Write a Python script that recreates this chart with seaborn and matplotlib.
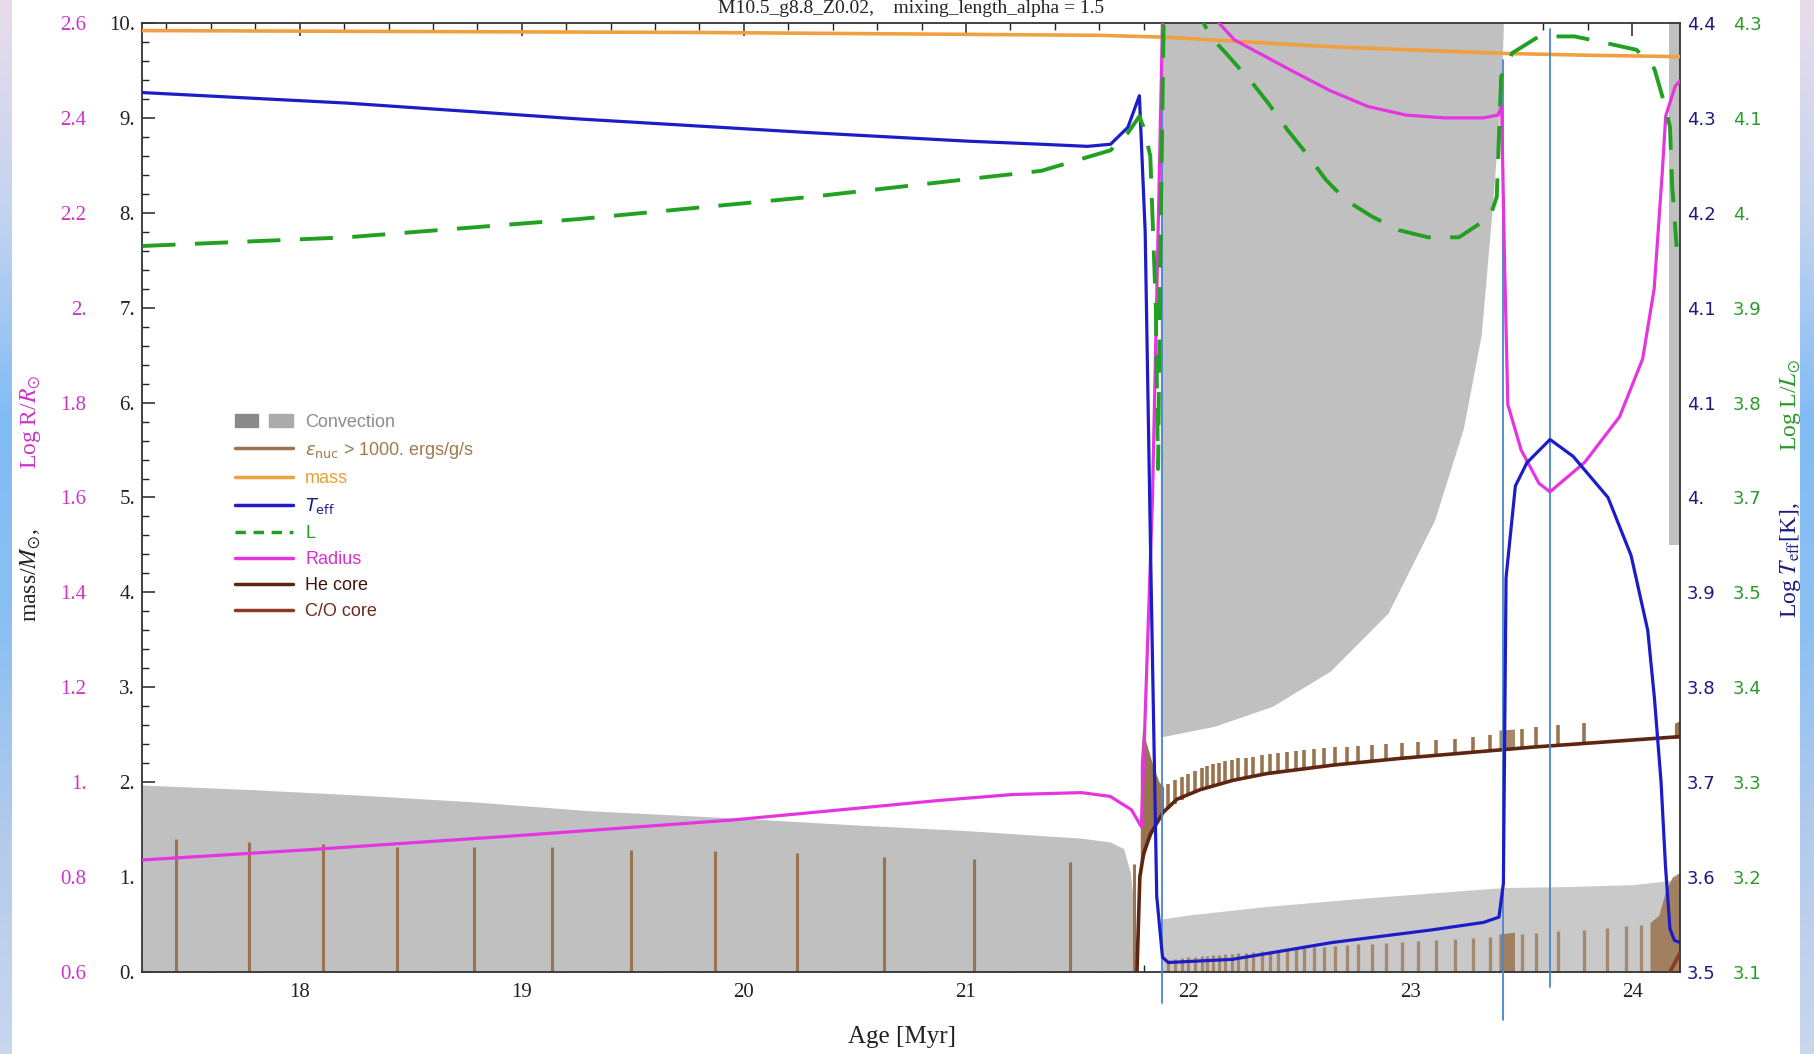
import matplotlib
matplotlib.use("Agg")
import matplotlib.pyplot as plt
import numpy as np
import seaborn as sns
from matplotlib.lines import Line2D
from matplotlib.patches import Patch
from matplotlib.legend_handler import HandlerTuple
from matplotlib.colors import LinearSegmentedColormap
from matplotlib.ticker import MultipleLocator

# ---------------- data (age in Myr) ----------------
# stellar mass [Msun]
mass_age = [17.29, 18.5, 19.8, 21.0, 21.6, 21.9, 22.12, 22.64, 23.41, 23.8, 24.215]
mass_val = [9.92, 9.91, 9.90, 9.88, 9.87, 9.85, 9.82, 9.75, 9.68, 9.66, 9.645]

# log Teff
teff_age = [17.292, 18.214, 19.255, 20.297, 21.0, 21.339, 21.547, 21.651, 21.729, 21.781,
            21.807, 21.833, 21.859, 21.885, 21.911, 22.20, 22.65, 23.10, 23.33, 23.40,
            23.42, 23.432, 23.474, 23.526, 23.63, 23.734, 23.891, 23.995, 24.07, 24.10,
            24.13, 24.15, 24.17, 24.19, 24.215]
teff_val = [4.334, 4.324, 4.309, 4.296, 4.288, 4.285, 4.283, 4.285, 4.301, 4.331,
            4.202, 3.878, 3.572, 3.514, 3.509, 3.512, 3.528, 3.540, 3.547, 3.552,
            3.584, 3.874, 3.961, 3.983, 4.005, 3.989, 3.950, 3.895, 3.824, 3.760,
            3.680, 3.600, 3.541, 3.530, 3.528]

# log L
lum_age = [17.292, 18.214, 19.255, 20.297, 21.339, 21.651, 21.729, 21.781, 21.80, 21.83,
           21.855, 21.865, 21.875, 21.89, 21.97, 22.06, 22.10, 22.17, 22.29, 22.36,
           22.45, 22.53, 22.62, 22.71, 22.83, 22.95, 23.08, 23.22, 23.36, 23.39,
           23.41, 23.46, 23.58, 23.74, 23.86, 24.02, 24.10, 24.14, 24.17, 24.18, 24.20]
lum_val = [4.018, 4.029, 4.052, 4.080, 4.113, 4.139, 4.161, 4.182, 4.168, 4.132,
           3.940, 3.736, 4.000, 4.300, 4.360, 4.306, 4.283, 4.262, 4.224, 4.199,
           4.164, 4.136, 4.102, 4.076, 4.055, 4.038, 4.029, 4.029, 4.055, 4.080,
           4.232, 4.262, 4.283, 4.283, 4.276, 4.266, 4.242, 4.203, 4.169, 4.094, 4.017]

# log R
rad_age = [17.29, 18.05, 19.0, 19.94, 20.26, 20.89, 21.21, 21.52, 21.65, 21.745,
           21.79, 21.84, 21.885, 21.95, 22.08, 22.21, 22.465, 22.637, 22.81, 22.98, 23.154,
           23.33, 23.395, 23.412, 23.425, 23.44, 23.50, 23.58, 23.63, 23.786, 23.943,
           24.047, 24.099, 24.135, 24.151, 24.193, 24.215]
rad_val = [0.836, 0.858, 0.888, 0.920, 0.934, 0.962, 0.974, 0.978, 0.970, 0.942,
           0.906, 1.600, 2.600, 2.660, 2.630, 2.564, 2.500, 2.458, 2.424, 2.406, 2.400,
           2.400, 2.406, 2.424, 2.100, 1.796, 1.700, 1.630, 1.612, 1.674, 1.770,
           1.892, 2.040, 2.282, 2.404, 2.466, 2.478]

# He core / C/O core mass
he_age = [21.77, 21.783, 21.80, 21.83, 21.887, 21.95, 22.053, 22.203, 22.353, 22.653, 22.953,
          23.254, 23.554, 23.854, 24.215]
he_val = [0.0, 1.0, 1.25, 1.45, 1.68, 1.82, 1.92, 2.02, 2.09, 2.18, 2.25, 2.31, 2.37, 2.42, 2.48]
co_age = [24.17, 24.215]
co_val = [0.0, 0.2]

# convective regions
conv_ms_age = [17.29, 17.8, 18.3, 18.8, 19.3, 19.98, 20.5, 21.0, 21.52, 21.65, 21.71, 21.74, 21.76, 21.77]
conv_ms_top = [1.97, 1.92, 1.86, 1.79, 1.70, 1.62, 1.55, 1.49, 1.41, 1.37, 1.30, 1.05, 0.60, 0.0]
conv_env_age = [21.875, 21.885, 22.12, 22.38, 22.64, 22.90, 23.11, 23.24, 23.32, 23.37, 23.41, 23.42]
conv_env_bot = [2.48, 2.48, 2.59, 2.80, 3.17, 3.78, 4.76, 5.73, 6.71, 8.05, 9.27, 10.0]
conv_low_age = [21.885, 22.0, 22.35, 22.8, 23.25, 23.42, 23.7, 24.0, 24.12, 24.215]
conv_low_top = [0.56, 0.60, 0.69, 0.78, 0.86, 0.89, 0.90, 0.92, 0.95, 0.98]
conv_edge_age = [24.165, 24.215]
conv_edge_bot = [4.5, 4.5]

# burning regions (eps_nuc > 1000 erg/g/s)
burn_ms_age = [17.443, 17.771, 18.103, 18.440, 18.785, 19.135, 19.493, 19.868, 20.241,
               20.630, 21.034, 21.470, 21.755]
burn_ms_top = [1.40, 1.37, 1.35, 1.32, 1.32, 1.32, 1.29, 1.28, 1.25, 1.21, 1.19, 1.16, 1.14]
shell_age = [21.911, 21.941, 21.971, 22.001, 22.031, 22.061, 22.087, 22.114, 22.139, 22.166,
             22.196, 22.226, 22.259, 22.294, 22.331, 22.369, 22.406, 22.444, 22.484, 22.523,
             22.567, 22.612, 22.661, 22.714, 22.767, 22.827, 22.890, 22.962, 23.037, 23.116,
             23.202, 23.284, 23.359, 23.502, 23.569, 23.664, 23.783]
shell_bot = [1.72, 1.77, 1.81, 1.85, 1.89, 1.92, 1.94, 1.96, 1.97, 1.99,
             2.01, 2.03, 2.04, 2.06, 2.08, 2.09, 2.10, 2.12, 2.13, 2.14,
             2.16, 2.17, 2.18, 2.19, 2.21, 2.22, 2.24, 2.25, 2.27, 2.28,
             2.30, 2.32, 2.33, 2.36, 2.37, 2.39, 2.41]
shell_top = [1.98, 2.02, 2.06, 2.09, 2.12, 2.15, 2.17, 2.19, 2.20, 2.22,
             2.23, 2.25, 2.26, 2.27, 2.29, 2.30, 2.31, 2.32, 2.33, 2.34,
             2.35, 2.36, 2.37, 2.37, 2.38, 2.39, 2.40, 2.41, 2.42, 2.44,
             2.46, 2.48, 2.50, 2.56, 2.58, 2.60, 2.62]
low_age = shell_age + [23.887, 23.970, 24.038]
low_top = [0.13, 0.14, 0.15, 0.16, 0.16, 0.17, 0.17, 0.18, 0.18, 0.19,
           0.19, 0.20, 0.20, 0.21, 0.22, 0.22, 0.23, 0.24, 0.24, 0.25,
           0.26, 0.26, 0.27, 0.28, 0.29, 0.30, 0.31, 0.32, 0.33, 0.34,
           0.35, 0.36, 0.37, 0.40, 0.41, 0.43, 0.44, 0.46, 0.48, 0.50]
# dense burning patches
blkA_age = [21.785, 21.795, 21.82, 21.845, 21.87, 21.89]
blkA_bot = [1.02, 1.15, 1.35, 1.50, 1.62, 1.70]
blkA_top = [2.20, 2.55, 2.35, 2.15, 2.00, 1.95]
blkB_age = [23.40, 23.47]
blkB_bot = [2.33, 2.35]
blkB_top = [2.55, 2.56]
blkB_low = [0.40, 0.42]
blkC_age = [24.08, 24.12, 24.15, 24.18, 24.215]
blkC_top = [0.52, 0.60, 0.85, 1.00, 1.05]
blkD_age = [24.19, 24.215]
blkD_bot = [2.46, 2.47]
blkD_top = [2.62, 2.65]

# annotation lines drawn on the slide
mark_age = [21.885, 23.417, 23.632]
mark_top = [9.79, 9.61, 9.94]
mark_bot = [-0.33, -0.51, -0.16]

# tick labels
mass_ticks = ["0.", "1.", "2.", "3.", "4.", "5.", "6.", "7.", "8.", "9.", "10."]
rad_ticks = ["0.6", "0.8", "1.", "1.2", "1.4", "1.6", "1.8", "2.", "2.2", "2.4", "2.6"]
teff_ticks = ["3.5", "3.6", "3.7", "3.8", "3.9", "4.", "4.1", "4.1", "4.2", "4.3", "4.4"]
lum_ticks = ["3.1", "3.2", "3.3", "3.4", "3.5", "3.7", "3.8", "3.9", "4.", "4.1", "4.3"]

# ---------------- style ----------------
sns.set_theme(style="white")
plt.rcParams["font.family"] = ["Liberation Serif", "DejaVu Serif"]
plt.rcParams["axes.unicode_minus"] = False

C_GREY = "#c0c0c0"
C_GREY2 = "#c9c9c9"
C_BURN = "#9a7450"
C_MASS = "#f0a040"
C_TEFF = "#1c1cc8"
C_LUM = "#22a022"
C_RAD = "#e535e0"
C_HE = "#5e2610"
C_CO = "#8a3a24"
C_MARK = "#4a86d0"

fig = plt.figure(figsize=(18.14, 10.54), dpi=100)
ax = fig.add_axes([0.0783, 0.0778, 0.8478, 0.9004])

# background strips of the slide
cmap = LinearSegmentedColormap.from_list(
    "slide", ["#e8dcea", "#c4d4f0", "#80bbf5", "#8cc0f2", "#b4cbec", "#c8d6ee"])
grad = np.linspace(0, 1, 256).reshape(-1, 1)
for x0, w in [(0.0, 12 / 1814), (1800 / 1814, 14 / 1814)]:
    bax = fig.add_axes([x0, 0, w, 1])
    bax.imshow(grad, aspect="auto", cmap=cmap)
    bax.set_axis_off()

# convection
ax.fill_between(conv_ms_age, 0, conv_ms_top, color=C_GREY, lw=0, zorder=1)
ax.fill_between(conv_env_age, conv_env_bot, 10, color=C_GREY, lw=0, zorder=1)
ax.fill_between(conv_low_age, 0, conv_low_top, color=C_GREY2, lw=0, zorder=1)
ax.fill_between(conv_edge_age, conv_edge_bot, 10, color=C_GREY, lw=0, zorder=1)

# burning regions
ax.vlines(burn_ms_age, 0, burn_ms_top, color=C_BURN, lw=2.2, zorder=2)
ax.vlines(shell_age, shell_bot, shell_top, color=C_BURN, lw=2.6, zorder=2)
ax.vlines(low_age, 0, low_top, color=C_BURN, lw=2.4, alpha=0.75, zorder=2)
ax.fill_between(blkA_age, blkA_bot, blkA_top, color=C_BURN, lw=0, zorder=2)
ax.fill_between(blkB_age, blkB_bot, blkB_top, color=C_BURN, lw=0, alpha=0.85, zorder=2)
ax.fill_between(blkB_age, 0, blkB_low, color=C_BURN, lw=0, alpha=0.85, zorder=2)
ax.fill_between(blkC_age, 0, blkC_top, color=C_BURN, lw=0, alpha=0.85, zorder=2)
ax.fill_between(blkD_age, blkD_bot, blkD_top, color=C_BURN, lw=0, zorder=2)


def curve(axis, x, y, color, lw=2.3, **kw):
    sns.lineplot(x=x, y=y, ax=axis, color=color, linewidth=lw, sort=False,
                 estimator=None, legend=False, **kw)


curve(ax, he_age, he_val, C_HE, lw=2.6, zorder=3)
curve(ax, co_age, co_val, C_CO, lw=2.6, zorder=3)
curve(ax, mass_age, mass_val, C_MASS, lw=2.6, zorder=4)

for a, t, b in zip(mark_age, mark_top, mark_bot):
    ax.plot([a, a], [b, t], color=C_MARK, lw=1.3, clip_on=False, zorder=6)

ax.set_xlim(17.29, 24.215)
ax.set_ylim(0, 10)
ax.xaxis.set_major_locator(MultipleLocator(1))
ax.xaxis.set_minor_locator(MultipleLocator(0.2))
ax.set_yticks(range(11))
ax.set_yticklabels(mass_ticks)
ax.yaxis.set_minor_locator(MultipleLocator(0.2))
ax.tick_params(which="both", direction="in", top=True, right=True, left=True, bottom=True,
               labelright=False, colors="#222222", labelsize=15, pad=5)
ax.tick_params(which="major", length=9, width=1.1)
ax.tick_params(which="minor", length=5, width=1.0)
ax.tick_params(axis="x", pad=8)
ax.set_xlabel("")
ax.set_ylabel("")
for s in ax.spines.values():
    s.set_color("#333333")
    s.set_linewidth(1.3)

# log R axis (left, outer column)
ax_r = ax.twinx()
ax_r.yaxis.tick_left()
curve(ax_r, rad_age, rad_val, C_RAD, zorder=4)
ax_r.set_ylim(0.6, 2.6)
ax_r.set_yticks(np.linspace(0.6, 2.6, 11))
ax_r.set_yticklabels(rad_ticks)
ax_r.tick_params(axis="y", length=0, pad=40, labelcolor="#cc33cc", labelsize=15)

# log Teff axis (right, inner column)
ax_t = ax.twinx()
curve(ax_t, teff_age, teff_val, C_TEFF, zorder=5)
ax_t.set_ylim(3.5, 4.4)
ax_t.set_yticks(np.linspace(3.5, 4.4, 11))
ax_t.set_yticklabels(teff_ticks, family="DejaVu Sans")
ax_t.tick_params(axis="y", length=0, pad=5, labelcolor="#1a1a80", labelsize=13)

# log L axis (right, outer column)
ax_l = ax.twinx()
curve(ax_l, lum_age, lum_val, C_LUM, lw=2.8, linestyle=(0, (8.5, 5)), zorder=4)
ax_l.set_ylim(3.1, 4.3)
ax_l.set_yticks(np.linspace(3.1, 4.3, 11))
ax_l.set_yticklabels(lum_ticks, family="DejaVu Sans")
ax_l.tick_params(axis="y", length=0, pad=38, labelcolor="#2a9a2a", labelsize=13)

for tw in (ax_r, ax_t, ax_l):
    tw.set_xlim(17.29, 24.215)
    tw.set_ylabel("")
    tw.set_xlabel("")
    tw.grid(False)
    for s in tw.spines.values():
        s.set_visible(False)

# legend
handles = [
    (Patch(color="#8a8a8a"), Patch(color="#ababab")),
    Line2D([], [], color=C_BURN, lw=2.5),
    Line2D([], [], color=C_MASS, lw=2.5),
    Line2D([], [], color=C_TEFF, lw=2.5),
    Line2D([], [], color=C_LUM, lw=2.5, linestyle=(0, (3, 2.2))),
    Line2D([], [], color=C_RAD, lw=2.5),
    Line2D([], [], color=C_HE, lw=2.5),
    Line2D([], [], color=C_CO, lw=2.5),
]
labels = ["Convection", r"$\epsilon_{\rm nuc}$ > 1000. ergs/g/s", "mass", r"$T_{\rm eff}$",
          "L", "Radius", "He core", "C/O core"]
label_colors = ["#8c8c8c", "#a07a4a", "#e8a030", "#1a1a8c", "#20a020", "#d830d0",
                "#3a1a08", "#6a2a1a"]
leg = ax_l.legend(handles, labels, handler_map={tuple: HandlerTuple(ndivide=None, pad=0.6)},
                  loc="upper left", bbox_to_anchor=(0.058, 0.592), frameon=False,
                  prop={"family": "Liberation Sans", "size": 13}, handlelength=3.2,
                  handletextpad=0.7, labelspacing=0.5, borderaxespad=0, borderpad=0.2)
for t, c in zip(leg.get_texts(), label_colors):
    t.set_color(c)

# axis titles
fig.text(0.502, 1.0, "M10.5_g8.8_Z0.02,    mixing_length_alpha = 1.5", ha="center",
         va="top", fontsize=14, color="#222222")
fig.text(0.497, 0.016, "Age [Myr]", ha="center", va="center", fontsize=18, color="#222222")
fig.text(0.017, 0.454, r"mass/$M_{\odot}$,", rotation=90, ha="center", va="center",
         fontsize=17, color="#222222", math_fontfamily="stix")
fig.text(0.017, 0.600, r"Log R/$R_{\odot}$", rotation=90, ha="center", va="center",
         fontsize=17, color="#cc33cc", math_fontfamily="stix")
fig.text(0.987, 0.469, r"Log $T_{\rm eff}$[K],", rotation=90, ha="center", va="center",
         fontsize=17, color="#1a1a80", math_fontfamily="stix")
fig.text(0.987, 0.616, r"Log L/$L_{\odot}$", rotation=90, ha="center", va="center",
         fontsize=17, color="#2a9a2a", math_fontfamily="stix")

fig.savefig("out.png", dpi=100)
